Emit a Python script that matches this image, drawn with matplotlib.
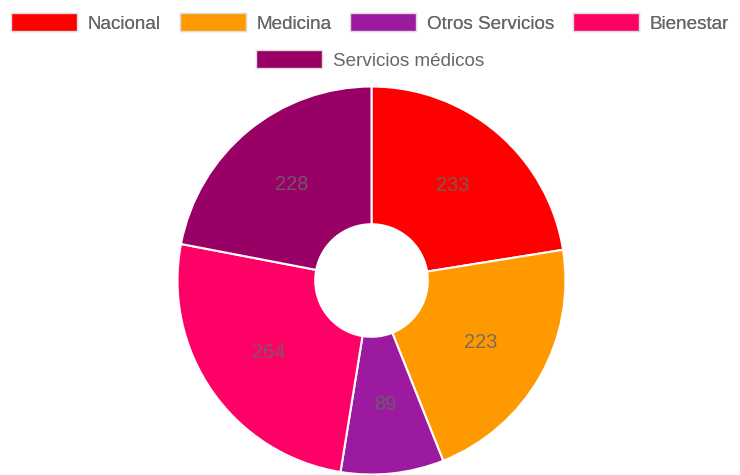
import matplotlib
matplotlib.use("Agg")
import matplotlib.pyplot as plt
from matplotlib.patches import Patch

labels = ["Nacional", "Medicina", "Otros Servicios", "Bienestar", "Servicios médicos"]
values = [233, 223, 89, 264, 228]
colors = ["#ff0000", "#ff9900", "#9c1a9f", "#ff0066", "#990066"]

plt.rcParams["font.family"] = ["Liberation Sans", "DejaVu Sans"]

W, H = 740, 475
fig = plt.figure(figsize=(W / 100, H / 100), dpi=100)

# pie: centre (371.5, 280.5) px from top-left, radius 194 px
cx, cy, r = 371.5, 280.5, 194
ax = fig.add_axes([(cx - r) / W, (H - cy - r) / H, 2 * r / W, 2 * r / H])

total = sum(values)
wedges, texts, autotexts = ax.pie(
    values, colors=colors, startangle=90, counterclock=False, radius=1,
    wedgeprops=dict(width=0.71, edgecolor="white", linewidth=1.5),
    autopct=lambda p: f"{round(p * total / 100)}", pctdistance=0.645,
    textprops=dict(color="#666666", fontsize=14.4, alpha=0.85),
)
ax.set_xlim(-1, 1)
ax.set_ylim(-1, 1)
ax.axis("off")

handles = [Patch(facecolor=c, edgecolor="#dddddd", linewidth=1) for c in colors]
kw = dict(loc="center", frameon=False, fontsize=13.6, handlelength=3.5,
          handleheight=1.1, handletextpad=0.55, columnspacing=1.0, labelcolor="#666666")
leg1 = fig.legend(handles[:4], labels[:4], ncol=4, bbox_to_anchor=(0.5, 1 - 23 / H), **kw)
fig.add_artist(leg1)
fig.legend(handles[4:], labels[4:], ncol=1, bbox_to_anchor=(0.5, 1 - 60 / H), **kw)

fig.savefig("out.png", dpi=100)
